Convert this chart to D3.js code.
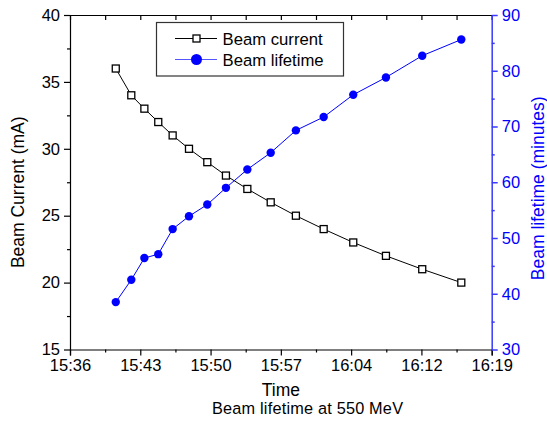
<!DOCTYPE html>
<html>
<head>
<meta charset="utf-8">
<script src="https://cdn.jsdelivr.net/npm/d3@7"></script>
<style>
  html, body { margin: 0; padding: 0; background: #fff; }
  svg { display: block; font-family: "Liberation Sans", Arial, sans-serif; }
</style>
</head>
<body>
<svg id="chart" width="547" height="421"></svg>
<script>
// Measurement times (hh:mm:ss)
const times = ["15:40:40", "15:42:15", "15:43:35", "15:45:00", "15:46:28", "15:48:08",
  "15:50:00", "15:51:54", "15:54:05", "15:56:28", "15:59:02", "16:01:52",
  "16:04:53", "16:08:13", "16:11:55", "16:15:54"];
// Stored beam current (mA)
const beamCurrent = [36, 34, 33, 32, 31, 30, 29, 28, 27, 26, 25, 24, 23, 22, 21, 20];
// Beam lifetime (minutes)
const beamLifetime = [38.5, 42.5, 46.4, 47.1, 51.6, 53.9, 56.0, 59.0, 62.3, 65.3,
  69.3, 71.7, 75.7, 78.8, 82.7, 85.6];
// Time axis ticks and their labels
const timeTicks = ["15:36:00", "15:43:10", "15:50:20", "15:57:30", "16:04:40", "16:11:50", "16:19:00"];
const timeTickLabels = ["15:36", "15:43", "15:50", "15:57", "16:04", "16:12", "16:19"];
const currentTicks = [15, 20, 25, 30, 35, 40];
const lifetimeTicks = [30, 40, 50, 60, 70, 80, 90];
const seriesNames = ["Beam current", "Beam lifetime"];

const parse = d3.timeParse("%H:%M:%S");
const blue = "#0000ff";
const axisBlue = "#3a3aff";

const svg = d3.select("#chart");
const L = 70, R = 491.7, T = 15, B = 349.5;

const x = d3.scaleTime().domain([parse("15:36:00"), parse("16:19:00")]).range([L, R]);
const yL = d3.scaleLinear().domain([15, 40]).range([B, T]);
const yR = d3.scaleLinear().domain([30, 90]).range([B, T]);

const tickDates = timeTicks.map(parse);
const minorDates = d3.pairs(tickDates).map(([a, b]) => new Date((+a + +b) / 2));
const labelFor = d => timeTickLabels[tickDates.findIndex(t => +t === +d)];

const tickFont = 16.5;
const titleFont = 17.5;

// Bottom axis: major + minor ticks pointing out
svg.append("g").attr("transform", `translate(0,${B})`)
  .call(d3.axisBottom(x).tickValues(tickDates).tickFormat(labelFor).tickSize(6).tickPadding(4));
svg.append("g").attr("transform", `translate(0,${B})`)
  .call(d3.axisBottom(x).tickValues(minorDates).tickFormat("").tickSize(3))
  .call(g => g.select(".domain").remove());

// Top axis: ticks pointing inward, no labels
svg.append("g").attr("transform", `translate(0,${T})`)
  .call(d3.axisBottom(x).tickValues(tickDates.concat(minorDates)).tickFormat("").tickSize(5).tickSizeOuter(0));

// Left axis
svg.append("g").attr("transform", `translate(${L},0)`)
  .call(d3.axisLeft(yL).tickValues(currentTicks).tickSize(6).tickPadding(4).tickSizeOuter(0));
svg.append("g").attr("transform", `translate(${L},0)`)
  .call(d3.axisLeft(yL).tickValues(d3.pairs(currentTicks).map(([a, b]) => (a + b) / 2)).tickFormat("").tickSize(3))
  .call(g => g.select(".domain").remove());

// Right axis (blue)
const rAxis = svg.append("g").attr("transform", `translate(${R},0)`)
  .call(d3.axisRight(yR).tickValues(lifetimeTicks).tickSize(6).tickPadding(4).tickSizeOuter(0));
const rMinor = svg.append("g").attr("transform", `translate(${R},0)`)
  .call(d3.axisRight(yR).tickValues(d3.pairs(lifetimeTicks).map(([a, b]) => (a + b) / 2)).tickFormat("").tickSize(3))
  .call(g => g.select(".domain").remove());

svg.selectAll(".tick text").attr("font-size", tickFont).attr("font-family", "Liberation Sans, Arial, sans-serif").attr("fill", "#000");
svg.selectAll(".domain, .tick line").attr("stroke", "#000").attr("stroke-width", 1.2);
rAxis.selectAll(".domain, .tick line").attr("stroke", axisBlue).attr("stroke-width", 1.5);
rMinor.selectAll(".tick line").attr("stroke", axisBlue).attr("stroke-width", 1.5);
rAxis.selectAll(".tick text").attr("fill", blue);

// Series data
const cur = times.map((t, i) => ({ t: parse(t), v: beamCurrent[i] }));
const life = times.map((t, i) => ({ t: parse(t), v: beamLifetime[i] }));

svg.append("path").datum(cur)
  .attr("fill", "none").attr("stroke", "#000").attr("stroke-width", 1)
  .attr("d", d3.line().x(d => x(d.t)).y(d => yL(d.v)));
svg.append("path").datum(life)
  .attr("fill", "none").attr("stroke", blue).attr("stroke-width", 1)
  .attr("d", d3.line().x(d => x(d.t)).y(d => yR(d.v)));

const sq = 7;
svg.append("g").selectAll("rect").data(cur).join("rect")
  .attr("x", d => x(d.t) - sq / 2).attr("y", d => yL(d.v) - sq / 2)
  .attr("width", sq).attr("height", sq)
  .attr("fill", "#fff").attr("stroke", "#000").attr("stroke-width", 1.3);
svg.append("g").selectAll("circle").data(life).join("circle")
  .attr("cx", d => x(d.t)).attr("cy", d => yR(d.v)).attr("r", 4.2)
  .attr("fill", blue);

// Axis titles
const midY = (T + B) / 2;
svg.append("text").attr("transform", `translate(24,${midY + 10}) rotate(-90)`)
  .attr("text-anchor", "middle").attr("font-size", titleFont).text("Beam Current (mA)");
svg.append("text").attr("transform", `translate(544,${midY + 6}) rotate(-90)`)
  .attr("text-anchor", "middle").attr("font-size", titleFont).attr("fill", blue).text("Beam lifetime (minutes)");
svg.append("text").attr("x", (L + R) / 2).attr("y", 396)
  .attr("text-anchor", "middle").attr("font-size", titleFont).text("Time");
svg.append("text").attr("x", 307.5).attr("y", 414)
  .attr("text-anchor", "middle").attr("font-size", 16.3).attr("textLength", 191)
  .text("Beam lifetime at 550 MeV");

// Legend
const lg = svg.append("g");
lg.append("rect").attr("x", 156.5).attr("y", 22.5).attr("width", 187).attr("height", 53.5)
  .attr("fill", "#fff").attr("stroke", "#333").attr("stroke-width", 1.2);
const rows = [
  { name: seriesNames[0], y: 38.5, mark: "square" },
  { name: seriesNames[1], y: 59.5, mark: "circle" }
];
rows.forEach(r => {
  lg.append("line").attr("x1", 175).attr("x2", 217).attr("y1", r.y).attr("y2", r.y)
    .attr("stroke", r.mark === "circle" ? "#5555ff" : "#000").attr("stroke-width", 1);
  if (r.mark === "square") {
    lg.append("rect").attr("x", 196.5 - 3.5).attr("y", r.y - 3.5).attr("width", 7).attr("height", 7)
      .attr("fill", "#fff").attr("stroke", "#000").attr("stroke-width", 1.3);
  } else {
    lg.append("circle").attr("cx", 196.5).attr("cy", r.y).attr("r", 5.5).attr("fill", blue);
  }
  lg.append("text").attr("x", 222.5).attr("y", r.y + 6).attr("font-size", 16.7).text(r.name);
});
</script>
</body>
</html>
